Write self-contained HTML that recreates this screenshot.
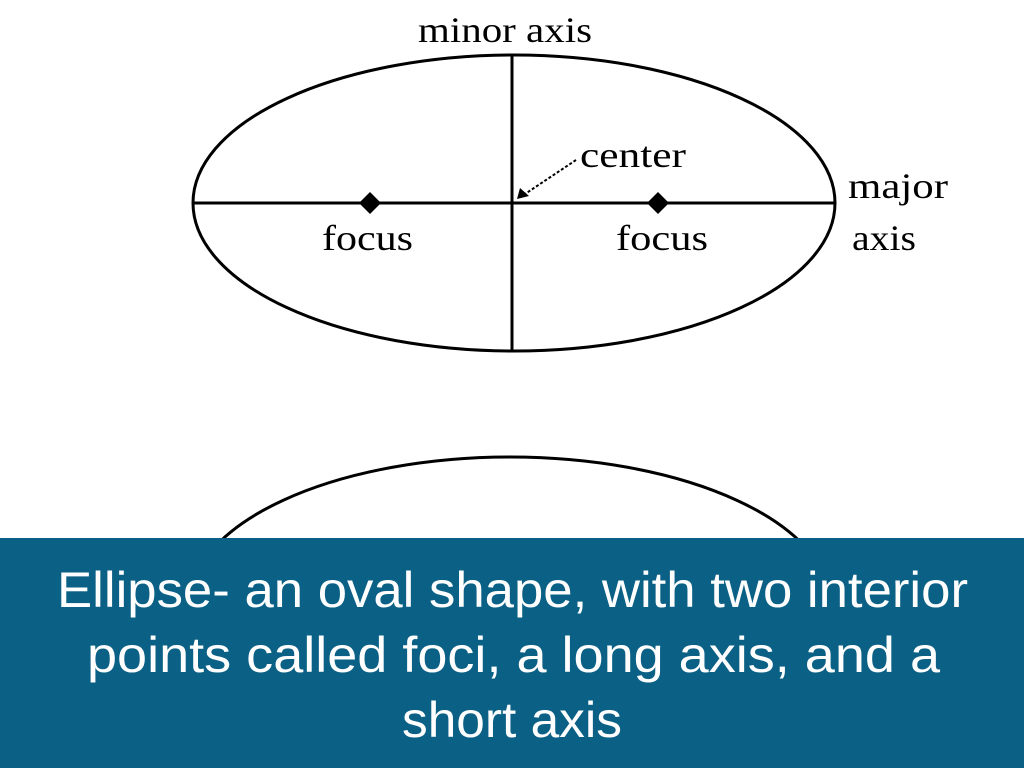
<!DOCTYPE html>
<html><head><meta charset="utf-8"><style>
html,body{margin:0;padding:0;background:#fff;}
svg{display:block;}
</style></head><body>
<svg width="1024" height="768" viewBox="0 0 1024 768" xmlns="http://www.w3.org/2000/svg">
<rect width="1024" height="768" fill="#fff"/>
<g fill="none" stroke="#000" stroke-width="3">
<ellipse cx="514" cy="203" rx="321" ry="148"/>
<line x1="193" y1="203" x2="835" y2="203"/>
<line x1="512" y1="56" x2="512" y2="352"/>
<ellipse cx="510" cy="605" rx="321" ry="148"/>
</g>
<line x1="576" y1="160" x2="522" y2="196" stroke="#000" stroke-width="2" stroke-dasharray="3,2"/>
<polygon points="517,199 520,188 529,196" fill="#000"/>
<polygon points="370,192 381,203 370,214 359,203" fill="#000"/>
<polygon points="658,192 669,203 658,214 647,203" fill="#000"/>
<g font-family="Liberation Serif, serif" font-size="36" fill="#000">
<text x="418" y="42" textLength="174" lengthAdjust="spacingAndGlyphs">minor axis</text>
<text x="580" y="167" textLength="106" lengthAdjust="spacingAndGlyphs">center</text>
<text x="322" y="250" textLength="91" lengthAdjust="spacingAndGlyphs">focus</text>
<text x="616" y="250" textLength="92" lengthAdjust="spacingAndGlyphs">focus</text>
<text x="848" y="198" textLength="100" lengthAdjust="spacingAndGlyphs">major</text>
<text x="852" y="250" textLength="64" lengthAdjust="spacingAndGlyphs">axis</text>
</g>
<rect x="0" y="538" width="1024" height="230" fill="#0b6085"/>
<g font-family="Liberation Sans, sans-serif" font-size="50" fill="#fff">
<text x="57" y="607" textLength="911" lengthAdjust="spacingAndGlyphs">Ellipse- an oval shape, with two interior</text>
<text x="87" y="672" textLength="853" lengthAdjust="spacingAndGlyphs">points called foci, a long axis, and a</text>
<text x="402" y="737" textLength="220" lengthAdjust="spacingAndGlyphs">short axis</text>
</g>
</svg>
</body></html>
